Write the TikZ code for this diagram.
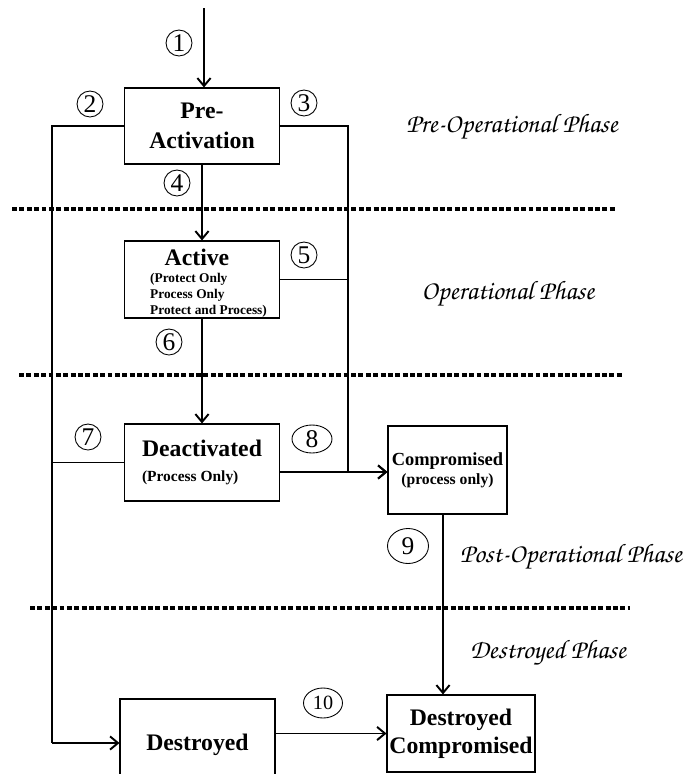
\documentclass[tikz,border=0pt]{standalone}
\usepackage[T1,TU]{fontenc}
\usepackage{fontspec}
\setmainfont{Liberation Serif}
\usetikzlibrary{arrows.meta,shapes.geometric}

\newcommand{\phasefont}{\fontencoding{T1}\fontfamily{pzc}\fontseries{m}\fontshape{it}\fontsize{15.2}{15.2}\selectfont}

\tikzset{
  box/.style={draw,line width=0.6pt,minimum width=3.1cm,minimum height=1.54cm,inner sep=0pt,
    font=\bfseries\fontsize{13.5}{17}\selectfont},
  num/.style={draw,circle,line width=0.5pt,minimum size=0.52cm,inner sep=0pt,
    font=\fontsize{14.5}{14.5}\selectfont},
  oval/.style={draw,ellipse,line width=0.5pt,inner sep=0pt,font=\fontsize{14.5}{14.5}\selectfont},
  phase/.style={font=\phasefont},
  divider/.style={line width=2.3pt,dash pattern=on 2.8pt off 1.4pt},
  link/.style={line width=0.6pt},
  arr/.style={line width=1.1pt,-{Straight Barb[length=4.5pt,width=7.5pt]}},
  tip/.style={line width=0.6pt,-{Straight Barb[length=4.5pt,width=7.5pt,line width=1.1pt]}}
}

\begin{document}
\begin{tikzpicture}[x=0.02cm,y=-0.02cm]
\useasboundingbox (0,0) rectangle (686,774);

% phase borders
\draw[divider] (12,209) -- (615,209);
\draw[divider] (19,375) -- (624,375);
\draw[divider] (30,608) -- (630,608);

% states
\node[box,minimum height=1.52cm,align=center] (preact) at (202,126) {Pre-\\Activation};
\node[box] (active) at (202,279.5) {};
\node[font=\bfseries\fontsize{13.5}{17}\selectfont,inner sep=0pt] (active-title) at (197,257) {Active};
\node[font=\bfseries\fontsize{7.6}{9.1}\selectfont,align=left,inner sep=0pt] (active-sub) at (208.5,295)
  {(Protect Only\\Process Only\\Protect and Process)};
\node[box,align=left] (deact) at (202,462.5)
  {Deactivated\\[-3pt]{\fontsize{8.8}{10}\selectfont(Process Only)}};
\node[box,minimum width=2.38cm,minimum height=1.76cm,align=center,font=\bfseries\fontsize{10.5}{12}\selectfont] (comp) at (447.5,470)
  {Compromised\\[-1pt]{\fontsize{8.9}{10}\selectfont(process only)}};
\node[box,minimum height=1.84cm] (destr) at (197.5,745) {Destroyed};
\node[box,minimum width=2.96cm,align=center,font=\bfseries\fontsize{13.5}{16}\selectfont] (dcomp) at (461,733.5) {Destroyed\\Compromised};

% transitions
\coordinate (entry) at (204,8);
\coordinate (lft) at (52,743);
\coordinate (rgt) at (348,472);
\draw[arr] (entry) -- (entry |- preact.north);
\draw[arr] (preact.south) -- (active.north);
\draw[arr] (active.south) -- (deact.north);
\draw[link] (preact.west) -| (lft);
\draw[arr] (lft) -- (lft -| destr.west);
\draw[link] (deact.west) -- (deact.west -| lft);
\draw[link] (preact.east) -| (rgt);
\draw[link] (active.east) -- (active.east -| rgt);
\draw[tip] (deact.east |- rgt) -- (comp.west |- rgt);
\draw[arr] (rgt) -- (comp.west |- rgt);
\draw[arr] (comp.south -| 443,0) -- (dcomp.north -| 443,0);
\draw[arr] (dcomp.west -| destr.east) -- (dcomp.west);

% transition numbers
\node[num] (n1) at (179,43) {1};
\node[num] (n2) at (90,104) {2};
\node[num] (n3) at (304,103) {3};
\node[num] (n4) at (177,183) {4};
\node[num] (n5) at (304,255) {5};
\node[num] (n6) at (169,342) {6};
\node[num] (n7) at (88,437) {7};
\node[oval,minimum width=0.8cm,minimum height=0.56cm] (n8) at (312,439) {8};
\node[oval,minimum width=0.82cm,minimum height=0.7cm] (n9) at (408,546) {9};
\node[oval,minimum width=0.78cm,minimum height=0.6cm,font=\fontsize{11.5}{11.5}\selectfont] (n10) at (323,703) {10};

% phases
\node[phase] (ph-pre) at (512,127) {Pre-Operational Phase};
\node[phase] (ph-op) at (508,294) {Operational Phase};
\node[phase] (ph-post) at (571,557) {Post-Operational Phase};
\node[phase] (ph-dest) at (548,653) {Destroyed Phase};
\end{tikzpicture}
\end{document}
